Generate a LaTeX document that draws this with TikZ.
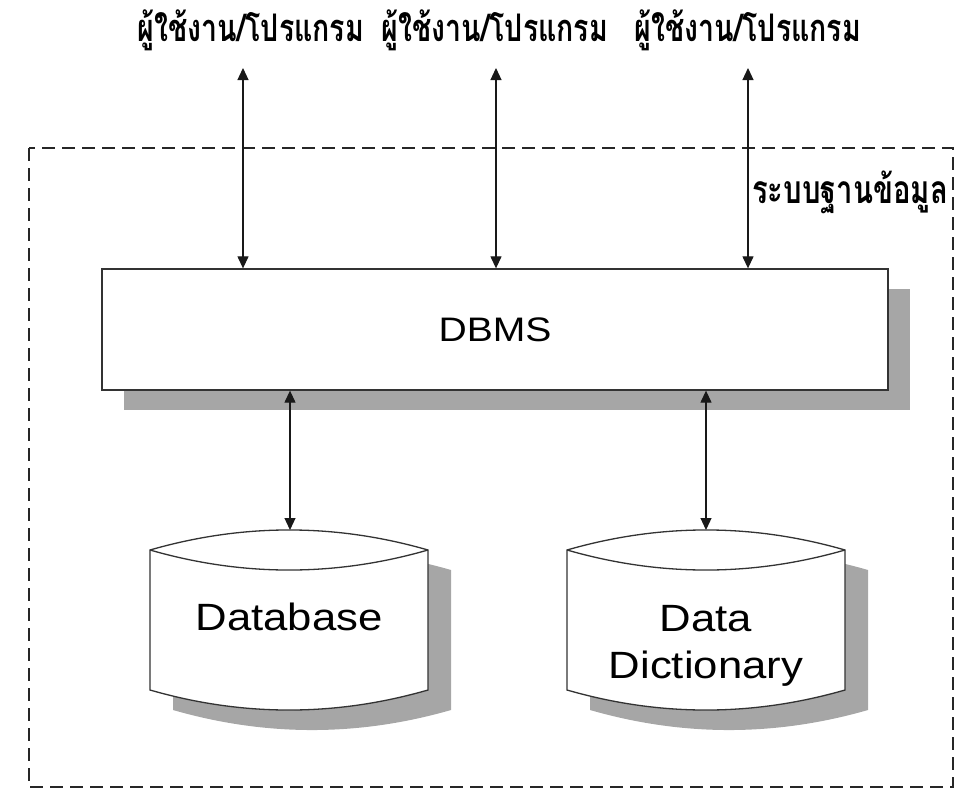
\documentclass[tikz,border=0pt]{standalone}
\usepackage{fontspec}
\setmainfont{Liberation Sans}
\newfontfamily\thaifont[Script=Thai,FakeStretch=0.75]{Loma}
\newfontfamily\arialw[FakeStretch=1.15]{Liberation Sans}
\usetikzlibrary{arrows.meta,calc}
\begin{document}
\begin{tikzpicture}[x=1bp,y=-1bp,
  dbl/.style={{Triangle[length=12bp,width=11bp]}-{Triangle[length=12bp,width=11bp]}, line width=1.2bp, draw=black!90},
  shadowfill/.style={fill=black!35, draw=none},
  outline/.style={draw=black!80, line width=1.3bp, fill=white},
  thailbl/.style={font=\thaifont\bfseries\fontsize{38bp}{42bp}\selectfont, inner sep=0pt},
  thaismall/.style={font=\thaifont\bfseries\fontsize{39bp}{42bp}\selectfont, inner sep=0pt},
  dbmsbox/.style={outline, minimum width=786bp, minimum height=121bp, inner sep=0pt,
    font=\arialw\fontsize{34bp}{40bp}\selectfont},
  cyltext/.style={font=\arialw\fontsize{38bp}{47bp}\selectfont, inner sep=0pt, align=center},
  system/.style={draw=black!85, line width=2.5bp, dash pattern=on 13bp off 7bp}
]
\useasboundingbox (0,0) rectangle (973,789);

% system boundary
\draw[system] (29,148) rectangle (953,787);

% labels at top
\node[thailbl] (u1) at (251,30) {ผู้ใช้งาน/โปรแกรม};
\node[thailbl] (u2) at (495,30) {ผู้ใช้งาน/โปรแกรม};
\node[thailbl] (u3) at (748,30) {ผู้ใช้งาน/โปรแกรม};
\node[thaismall, anchor=west] (sys) at (752,192) {ระบบฐานข้อมูล};

% DBMS box with shadow
\coordinate (dbmsc) at (495,329.5);
\fill[shadowfill] ($(dbmsc)+(-393+22,-60.5+20)$) rectangle ($(dbmsc)+(393+22,60.5+20)$);
\node[dbmsbox] (dbms) at (dbmsc) {DBMS};

% arrow top end points
\coordinate (t1) at (243,68);
\coordinate (t2) at (496,68);
\coordinate (t3) at (748,68);
\draw[dbl] (t1) -- (t1 |- dbms.north);
\draw[dbl] (t2) -- (t2 |- dbms.north);
\draw[dbl] (t3) -- (t3 |- dbms.north);

% Database cylinder
\fill[shadowfill, shift={(23,20)}] (150,550) .. controls (242.7,523.3) and (335.3,523.3) .. (428,550)
  -- (428,690) .. controls (335.3,716.7) and (242.7,716.7) .. (150,690) -- cycle;
\draw[outline] (150,550) .. controls (242.7,523.3) and (335.3,523.3) .. (428,550)
  -- (428,690) .. controls (335.3,716.7) and (242.7,716.7) .. (150,690) -- cycle;
\draw[outline, fill=none] (150,550) .. controls (242.7,576.7) and (335.3,576.7) .. (428,550);
\coordinate (dbtop) at (290,530);
\node[cyltext] (db) at (289,617) {Database};

% Data Dictionary cylinder
\fill[shadowfill, shift={(23,20)}] (567,550) .. controls (659.7,523.3) and (752.3,523.3) .. (845,550)
  -- (845,690) .. controls (752.3,716.7) and (659.7,716.7) .. (567,690) -- cycle;
\draw[outline] (567,550) .. controls (659.7,523.3) and (752.3,523.3) .. (845,550)
  -- (845,690) .. controls (752.3,716.7) and (659.7,716.7) .. (567,690) -- cycle;
\draw[outline, fill=none] (567,550) .. controls (659.7,576.7) and (752.3,576.7) .. (845,550);
\coordinate (ddtop) at (706,530);
\node[cyltext] (dd) at (706,646) {Data\\Dictionary};

\draw[dbl] (dbtop |- dbms.south) -- (dbtop);
\draw[dbl] (ddtop |- dbms.south) -- (ddtop);
\end{tikzpicture}
\end{document}
